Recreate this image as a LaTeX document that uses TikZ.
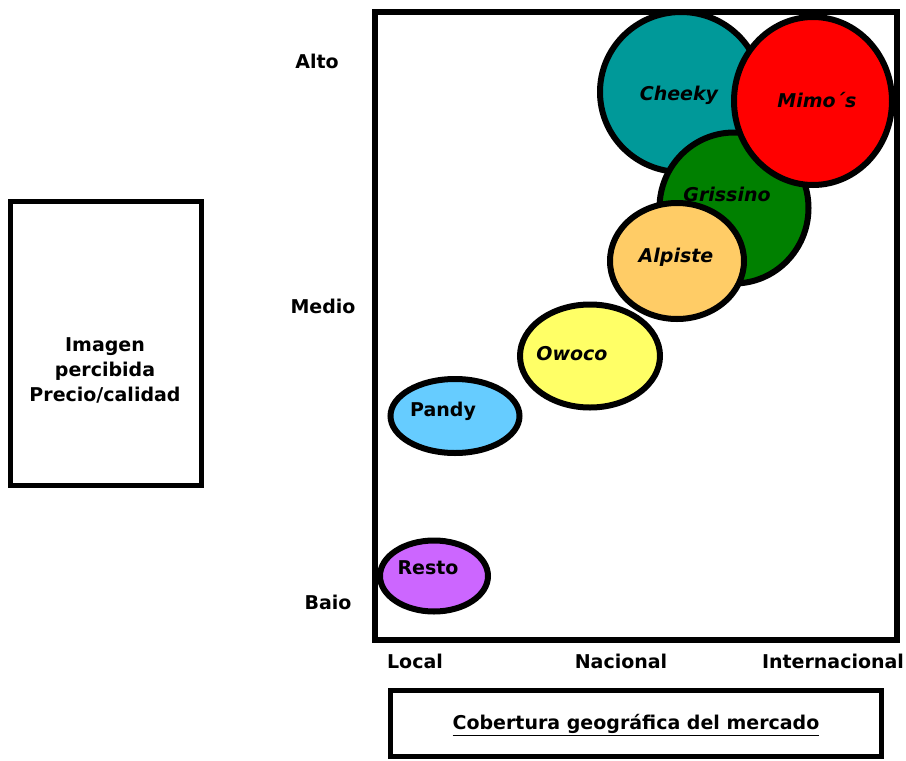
\documentclass[tikz,border=0pt]{standalone}
\usepackage{fontspec}
\setmainfont{DejaVu Sans}
\usetikzlibrary{shapes.geometric}
\definecolor{cteal}{HTML}{009999}
\definecolor{cred}{HTML}{FF0000}
\definecolor{cgreen}{HTML}{008000}
\definecolor{corange}{HTML}{FFCC66}
\definecolor{cyellow}{HTML}{FFFF66}
\definecolor{cblue}{HTML}{66CCFF}
\definecolor{cpurple}{HTML}{CC66FF}
\tikzset{
  bubble/.style={ellipse, draw=black, line width=6pt, inner sep=0pt},
  lbl/.style={font=\fontsize{19}{25}\selectfont\bfseries, inner sep=0pt},
  ilbl/.style={font=\fontsize{19}{25}\selectfont\bfseries\itshape, inner sep=0pt},
  frame/.style={draw=black, line width=6pt, fill=white, inner sep=0pt}
}
\begin{document}
\begin{tikzpicture}[x=1pt,y=-1pt]
\useasboundingbox (0,0) rectangle (906,761);
\fill[white] (0,0) rectangle (906,761);
% main frame
\node[frame, minimum width=522pt, minimum height=628pt] (chart) at (636,326) {};
% left box
\node[frame, line width=5pt, minimum width=191pt, minimum height=284pt] (ybox) at (105.5,343) {};
\node[lbl, align=center] (ytext) at (105,370) {Imagen\\percibida\\Precio/calidad};
% bottom box
\node[frame, line width=5pt, minimum width=491pt, minimum height=66pt] (xbox) at (635.5,723) {};
\node[lbl] (xtext) at (636,725) {\underline{Cobertura geográfica del mercado}};
% bubbles
\node[bubble, fill=cteal, minimum width=162pt, minimum height=160pt] (cheeky) at (681,92) {};
\node[bubble, fill=cgreen, minimum width=149pt, minimum height=151pt] (grissino) at (734,208) {};
\node[bubble, fill=cred, minimum width=158pt, minimum height=168pt] (mimos) at (813,101) {};
\node[bubble, fill=corange, minimum width=134pt, minimum height=116pt] (alpiste) at (677,261) {};
\node[bubble, fill=cyellow, minimum width=140pt, minimum height=103pt] (owoco) at (590,356) {};
\node[bubble, fill=cblue, minimum width=129pt, minimum height=74pt] (pandy) at (455,416) {};
\node[bubble, fill=cpurple, minimum width=108pt, minimum height=71pt] (resto) at (434,576) {};
% bubble labels
\node[ilbl] (tcheeky) at (679,95) {Cheeky};
\node[ilbl] (tmimos) at (817,100) {Mimo´s};
\node[ilbl] (tgrissino) at (727,194) {Grissino};
\node[ilbl] (talpiste) at (676,257) {Alpiste};
\node[ilbl] (towoco) at (572,354) {Owoco};
\node[lbl] (tpandy) at (443,411) {Pandy};
\node[lbl] (tresto) at (428,568) {Resto};
% axis labels
\node[lbl] (alto) at (317,61) {Alto};
\node[lbl] (medio) at (323,306) {Medio};
\node[lbl] (baio) at (328,602) {Baio};
\node[lbl] (local) at (415,661) {Local};
\node[lbl] (nacional) at (621,661) {Nacional};
\node[lbl] (internacional) at (833,661) {Internacional};
\end{tikzpicture}
\end{document}
